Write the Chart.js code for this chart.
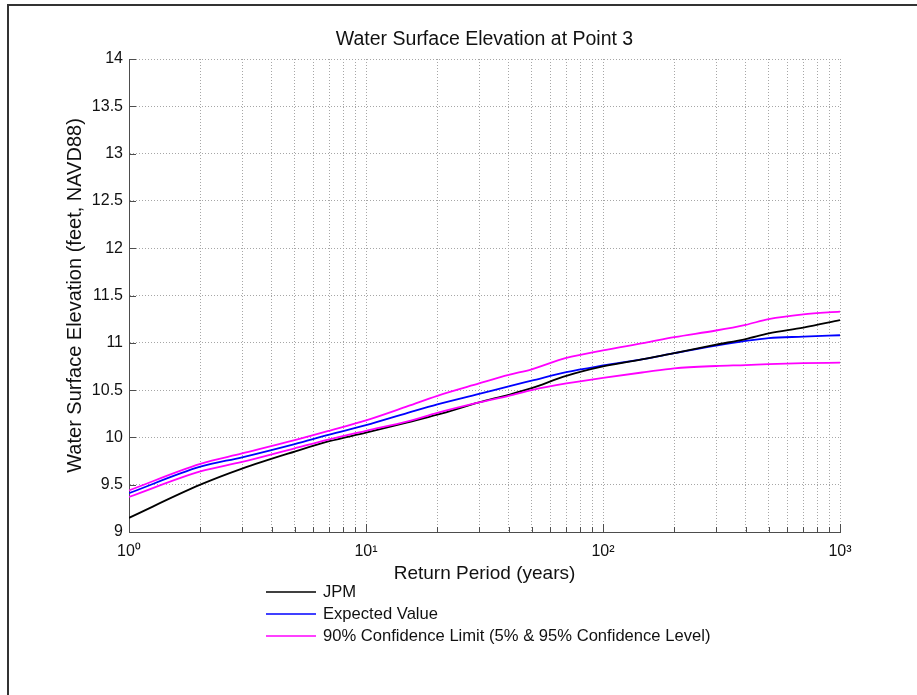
<!DOCTYPE html>
<html>
<head>
<meta charset="utf-8">
<script src="https://cdn.jsdelivr.net/npm/chart.js@4.4.1/dist/chart.umd.min.js"></script>
<style>
html,body{margin:0;padding:0;background:#fff;}
#wrap{position:relative;width:917px;height:695px;overflow:hidden;background:#fff;}
#frame{position:absolute;left:7px;top:4px;width:930px;height:710px;border-left:2px solid #333;border-top:2px solid #333;pointer-events:none;}
canvas{position:absolute;left:0;top:0;}
</style>
</head>
<body>
<div id="wrap"><canvas id="c" width="917" height="695"></canvas><div id="frame"></div></div>
<script>
// ---- data ----
const returnPeriods = [1, 2, 3, 5, 7, 10, 15, 20, 30, 40, 50, 70, 100, 150, 200, 300, 400, 500, 700, 1000];
const jpm           = [9.15, 9.50, 9.67, 9.85, 9.96, 10.05, 10.16, 10.24, 10.37, 10.45, 10.52, 10.65, 10.75, 10.83, 10.89, 10.98, 11.04, 11.10, 11.16, 11.24];
const expectedValue = [9.41, 9.69, 9.79, 9.93, 10.03, 10.13, 10.26, 10.35, 10.46, 10.54, 10.60, 10.69, 10.76, 10.83, 10.89, 10.97, 11.02, 11.05, 11.065, 11.08];
const upperLimit95  = [9.44, 9.72, 9.83, 9.97, 10.07, 10.18, 10.33, 10.44, 10.57, 10.66, 10.72, 10.84, 10.92, 11.00, 11.06, 11.13, 11.19, 11.25, 11.30, 11.33];
const lowerLimit5   = [9.37, 9.64, 9.74, 9.885, 9.98, 10.07, 10.17, 10.26, 10.37, 10.44, 10.50, 10.57, 10.63, 10.69, 10.73, 10.755, 10.765, 10.775, 10.785, 10.79];

const xTickValues = [1,2,3,4,5,6,7,8,9,10,20,30,40,50,60,70,80,90,100,200,300,400,500,600,700,800,900,1000];
const xTickLabels = {1: '10\u2070', 10: '10\u00B9', 100: '10\u00B2', 1000: '10\u00B3'};
const yTickValues = [9, 9.5, 10, 10.5, 11, 11.5, 12, 12.5, 13, 13.5, 14];
const yTickLabels = ['9', '9.5', '10', '10.5', '11', '11.5', '12', '12.5', '13', '13.5', '14'];

const seriesNames = ['JPM', 'Expected Value', '90% Confidence Limit (5% & 95% Confidence Level)'];
const chartTitle = 'Water Surface Elevation at Point 3';
const xTitle = 'Return Period (years)';
const yTitle = 'Water Surface Elevation (feet, NAVD88)';

// ---- helpers ----
const FONT = "'Liberation Sans', Arial, Helvetica, sans-serif";
const pts = arr => returnPeriods.map((p, i) => ({x: p, y: arr[i]}));

const inwardTicks = {
  id: 'inwardTicks',
  beforeDatasetsDraw(chart) {
    const {ctx, chartArea: a, scales: {x, y}} = chart;
    ctx.save();
    ctx.strokeStyle = '#4d4d4d';
    ctx.lineWidth = 1;
    ctx.beginPath();
    yTickValues.forEach(v => {
      const py = Math.round(y.getPixelForValue(v)) + 0.5;
      ctx.moveTo(a.left, py); ctx.lineTo(a.left + 7, py);
    });
    xTickValues.forEach(v => {
      const px = Math.round(x.getPixelForValue(v)) + 0.5;
      const len = xTickLabels[v] ? 8 : 5;
      ctx.moveTo(px, a.bottom); ctx.lineTo(px, a.bottom - len);
    });
    ctx.stroke();
    ctx.restore();
  }
};

const sideLegend = {
  id: 'sideLegend',
  afterDraw(chart) {
    const {ctx, chartArea: a} = chart;
    const items = chart.data.datasets.filter(d => d.inLegend);
    items.sort((p, q) => p.legendIndex - q.legendIndex);
    ctx.save();
    ctx.font = '16.6px ' + FONT;
    ctx.textBaseline = 'middle';
    ctx.textAlign = 'left';
    items.forEach((d, i) => {
      const yy = a.bottom + 60 + i * 22;
      ctx.strokeStyle = d.borderColor;
      ctx.lineWidth = 1.6;
      ctx.beginPath();
      ctx.moveTo(a.left + 137, yy); ctx.lineTo(a.left + 187, yy);
      ctx.stroke();
      ctx.fillStyle = '#111';
      ctx.fillText(d.label, a.left + 194, yy);
    });
    ctx.restore();
  }
};

const common = {pointRadius: 0, pointHoverRadius: 0, borderWidth: 1.8, fill: false, cubicInterpolationMode: 'monotone'};

new Chart(document.getElementById('c'), {
  type: 'line',
  data: {
    datasets: [
      Object.assign({label: seriesNames[2], data: pts(upperLimit95), borderColor: '#ff00ff', order: 0, inLegend: true, legendIndex: 2}, common),
      Object.assign({label: seriesNames[2] + ' (lower)', data: pts(lowerLimit5), borderColor: '#ff00ff', order: 0, inLegend: false}, common),
      Object.assign({label: seriesNames[0], data: pts(jpm), borderColor: '#000000', order: 1, inLegend: true, legendIndex: 0}, common),
      Object.assign({label: seriesNames[1], data: pts(expectedValue), borderColor: '#0000ff', order: 2, inLegend: true, legendIndex: 1}, common)
    ]
  },
  options: {
    responsive: false,
    animation: false,
    devicePixelRatio: 1,
    layout: {padding: {left: 0, top: 0, right: 77, bottom: 103}},
    plugins: {
      legend: {display: false},
      tooltip: {enabled: false},
      title: {
        display: true, text: chartTitle, fullSize: false,
        color: '#111', font: {family: FONT, size: 19.5, weight: 'normal', lineHeight: 1.2},
        padding: {top: 28.3, bottom: 7.3}
      }
    },
    scales: {
      x: {
        type: 'logarithmic', position: 'bottom', min: 1, max: 1000,
        afterBuildTicks: s => { s.ticks = xTickValues.map(v => ({value: v})); },
        afterFit: s => { s.height = 60; },
        grid: {color: '#a6a6a6', lineWidth: 1, drawTicks: false},
        border: {display: true, color: '#4d4d4d', width: 1, dash: [1, 2]},
        ticks: {
          autoSkip: false, maxRotation: 0, minRotation: 0, padding: 10,
          color: '#111', font: {family: FONT, size: 16},
          callback: v => (xTickLabels[v] !== undefined ? xTickLabels[v] : '')
        },
        title: {display: true, text: xTitle, color: '#111', font: {family: FONT, size: 19, lineHeight: 1.2}, padding: {top: 0, bottom: 6.6}}
      },
      y: {
        type: 'linear', position: 'left', min: 9, max: 14,
        afterBuildTicks: s => { s.ticks = yTickValues.map(v => ({value: v})); },
        afterFit: s => { s.width = 129; },
        grid: {color: '#a6a6a6', lineWidth: 1, drawTicks: false},
        border: {display: true, color: '#4d4d4d', width: 1, dash: [1, 2]},
        ticks: {
          autoSkip: false, padding: 6,
          color: '#111', font: {family: FONT, size: 16},
          callback: v => yTickLabels[yTickValues.indexOf(v)]
        },
        title: {display: true, text: yTitle, color: '#111', font: {family: FONT, size: 20, lineHeight: 1.2}, padding: {top: 63.5, bottom: 0}}
      }
    }
  },
  plugins: [inwardTicks, sideLegend]
});
</script>
</body>
</html>
